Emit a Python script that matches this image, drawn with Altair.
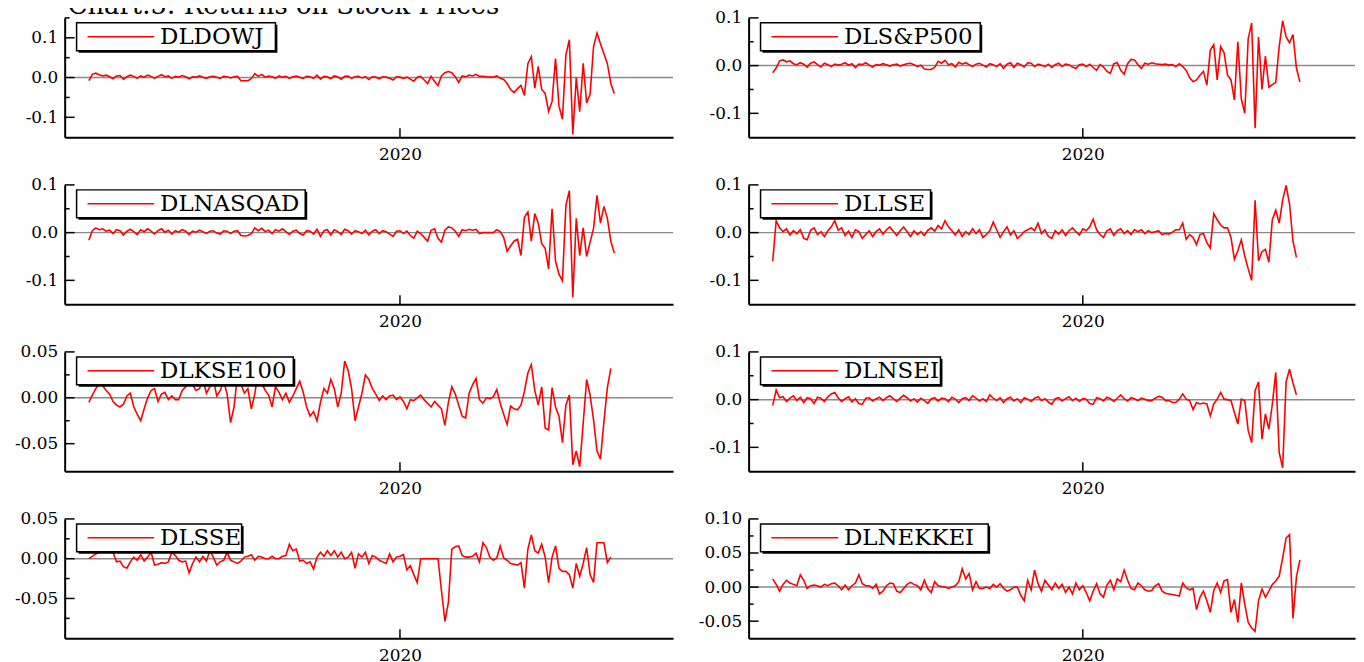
import altair as alt
import pandas as pd

FONT = "DejaVu Serif"
RED = "#ff0000"

CHART_TITLE = "Chart.5: Returns on Stock Prices"
FIRST_OBS = 7
X_SPAN = [0, 176]
YEAR_TICK = 97
YEAR_LABEL = "2020"

DLDOWJ = [
    -0.008, 0.008, 0.011, 0.007, 0.004, 0.006, 0.002, -0.003, 0.004, 0.005,
    -0.004, 0.002, 0.006, 0.003, -0.002, 0.004, 0.001, 0.006, 0.003, -0.002,
    0.003, 0.007, 0.002, 0.004, -0.002, 0.003, 0.001, 0.005, 0.002, -0.003,
    0.002, 0.001, 0.004, 0.001, -0.002, 0.002, 0.003, 0.001, -0.002, 0.003,
    0.002, -0.001, 0.002, 0.003, -0.008, -0.008, -0.008, -0.003, 0.010, 0.003,
    0.008, 0.001, 0.004, 0.002, -0.002, 0.004, 0.001, 0.003, -0.002, 0.002,
    0.004, 0.001, -0.002, 0.003, 0.002, -0.002, 0.006, -0.004, 0.003, 0.002,
    -0.003, 0.004, 0.002, -0.004, 0.003, 0.004, -0.002, 0.002, 0.003, -0.001,
    0.002, -0.005, 0.002, 0.001, -0.003, 0.002, 0.001, -0.002, -0.006, 0.002,
    0.001, -0.002, 0.001, -0.004, -0.009, 0.001, 0.003, -0.006, -0.015, 0.003,
    -0.010, -0.020, 0.004, 0.012, 0.015, 0.012, 0.002, -0.012, 0.004, 0.002,
    0.006, 0.004, 0.008, 0.003, 0.003, 0.002, 0.001, 0.001, 0.004, -0.002,
    -0.005, -0.015, -0.030, -0.038, -0.028, -0.020, -0.045, 0.035, 0.053, -0.027,
    0.028, -0.030, -0.040, -0.085, -0.060, 0.048, -0.072, -0.105, 0.057, 0.095,
    -0.143, 0.000, -0.086, 0.036, -0.064, -0.042, 0.078, 0.112, 0.085, 0.060,
    0.035, -0.015, -0.040,
]

DLSP500 = [
    -0.015, -0.005, 0.010, 0.012, 0.008, 0.010, 0.004, 0.002, 0.006, 0.003,
    -0.003, 0.005, 0.008, 0.002, -0.003, 0.005, 0.002, -0.002, 0.003, 0.001,
    0.003, 0.006, 0.001, 0.004, -0.004, 0.003, 0.002, 0.006, 0.001, -0.003,
    0.002, 0.001, 0.004, 0.002, -0.001, 0.002, 0.003, -0.001, 0.002, 0.004,
    0.005, 0.002, -0.002, 0.001, -0.007, -0.008, -0.008, -0.004, 0.009, 0.005,
    0.011, 0.002, 0.004, -0.003, 0.007, 0.003, 0.006, 0.002, -0.002, 0.003,
    0.005, 0.001, -0.003, 0.004, 0.002, -0.002, 0.004, -0.006, 0.003, 0.006,
    -0.004, 0.005, 0.002, -0.003, 0.006, 0.005, -0.002, 0.003, 0.001, -0.002,
    0.003, -0.004, 0.002, 0.005, -0.002, 0.003, 0.002, -0.003, -0.006, 0.002,
    0.003, -0.002, 0.003, -0.004, -0.010, 0.002, -0.003, -0.012, -0.016, 0.004,
    0.006, -0.010, -0.018, 0.004, 0.013, 0.012, 0.002, -0.006, 0.005, 0.003,
    0.006, 0.004, 0.003, 0.002, 0.003, 0.001, 0.002, -0.002, 0.004, -0.002,
    -0.010, -0.025, -0.034, -0.030, -0.020, -0.012, -0.041, 0.032, 0.044, -0.030,
    0.040, 0.027, -0.020, -0.030, -0.072, 0.050, -0.070, -0.100, 0.056, 0.089,
    -0.131, 0.060, -0.050, 0.020, -0.045, -0.040, -0.035, 0.040, 0.094, 0.060,
    0.048, 0.065, -0.005, -0.034,
]

DLNASQAD = [
    -0.016, 0.004, 0.010, 0.006, 0.008, 0.003, 0.005, -0.002, 0.006, 0.004,
    -0.005, 0.003, 0.007, 0.002, -0.004, 0.006, 0.002, 0.008, 0.003, -0.003,
    0.004, 0.008, 0.001, 0.005, -0.003, 0.004, 0.001, 0.006, 0.003, -0.004,
    0.003, 0.001, 0.005, 0.002, -0.002, 0.003, 0.004, -0.001, -0.003, 0.004,
    0.003, -0.002, 0.003, 0.004, -0.006, -0.007, -0.006, -0.002, 0.010, 0.004,
    0.009, 0.002, 0.005, -0.002, 0.006, 0.003, 0.008, 0.002, -0.004, 0.003,
    0.005, -0.002, -0.005, 0.004, 0.003, -0.003, 0.007, -0.008, 0.004, 0.006,
    -0.005, 0.006, 0.002, -0.004, 0.007, 0.004, -0.003, 0.004, 0.002, -0.002,
    0.005, -0.005, 0.003, 0.006, -0.002, 0.004, 0.002, -0.003, -0.008, 0.003,
    0.004, -0.002, 0.003, -0.006, -0.012, 0.003, -0.002, -0.010, -0.018, 0.005,
    0.008, -0.012, -0.020, 0.005, 0.012, 0.010, 0.003, -0.008, 0.006, 0.004,
    0.007, 0.005, 0.007, -0.002, 0.000, 0.000, 0.000, 0.000, 0.006, 0.002,
    -0.010, -0.039, -0.028, -0.018, -0.014, -0.048, 0.032, 0.043, -0.018, 0.040,
    0.020, -0.023, -0.033, -0.076, 0.050, -0.060, -0.087, -0.101, 0.057, 0.088,
    -0.136, 0.030, -0.048, 0.010, -0.050, -0.020, 0.009, 0.078, 0.020, 0.055,
    0.030, -0.018, -0.043,
]

DLLSE = [
    -0.060, 0.025, 0.010, 0.002, 0.008, -0.005, 0.004, -0.002, 0.006, -0.012,
    -0.015, 0.005, 0.010, -0.004, 0.002, -0.008, 0.004, 0.012, 0.025, 0.005,
    0.010, -0.006, 0.003, -0.010, 0.006, 0.002, -0.012, -0.004, 0.004, -0.008,
    0.002, 0.008, -0.003, 0.006, 0.012, 0.003, -0.006, 0.004, 0.012, 0.002,
    -0.008, 0.004, -0.004, 0.002, -0.006, 0.005, 0.010, 0.003, 0.015, 0.008,
    0.025, 0.012, 0.004, -0.005, 0.006, -0.008, 0.002, -0.004, 0.008, -0.002,
    0.006, -0.010, -0.004, 0.004, 0.022, 0.006, -0.010, 0.002, 0.012, -0.005,
    0.004, -0.012, -0.006, 0.002, 0.006, 0.010, 0.004, 0.020, -0.002, 0.006,
    -0.008, -0.012, 0.004, -0.003, 0.006, -0.006, 0.004, 0.010, 0.002, -0.005,
    0.008, 0.004, 0.012, 0.028, 0.006, -0.004, -0.010, 0.004, 0.008, -0.006,
    0.004, 0.008, -0.002, 0.004, -0.004, 0.006, 0.002, 0.006, -0.002, 0.004,
    0.000, 0.002, 0.004, -0.004, -0.002, -0.003, 0.001, 0.006, 0.006, 0.020,
    -0.014, -0.004, -0.010, -0.025, -0.004, -0.002, -0.021, -0.032, 0.040, 0.027,
    0.016, 0.010, 0.010, -0.010, -0.056, -0.038, -0.015, -0.049, -0.076, -0.100,
    0.068, -0.059, -0.040, -0.035, -0.062, 0.027, 0.047, 0.020, 0.068, 0.099,
    0.060, -0.018, -0.052,
]

DLKSE100 = [
    -0.005, 0.003, 0.010, 0.015, 0.013, 0.008, 0.004, -0.004, -0.008, -0.010,
    -0.007, 0.002, 0.005, -0.010, -0.018, -0.025, -0.012, 0.000, 0.008, 0.010,
    -0.004, 0.004, 0.006, -0.002, 0.002, -0.002, -0.002, 0.008, 0.012, 0.027,
    0.014, 0.008, 0.010, 0.020, 0.005, 0.012, 0.020, 0.002, 0.008, 0.018,
    0.004, -0.027, -0.010, 0.025, 0.015, 0.005, 0.010, -0.012, 0.004, 0.030,
    0.016, 0.008, 0.003, -0.010, 0.012, 0.006, -0.002, 0.005, -0.005, 0.002,
    0.010, 0.018, 0.006, -0.010, -0.020, -0.015, -0.025, -0.005, 0.010, 0.005,
    0.020, 0.010, -0.010, 0.005, 0.040, 0.030, 0.010, -0.025, -0.010, 0.005,
    0.025, 0.020, 0.010, 0.004, -0.003, 0.002, -0.002, 0.002, 0.003, -0.002,
    0.001, -0.004, -0.012, -0.002, -0.003, 0.000, 0.003, -0.002, -0.006, -0.010,
    -0.004, -0.008, -0.012, -0.030, -0.005, 0.012, 0.004, -0.008, -0.020,
    -0.022, 0.005, 0.014, 0.021, -0.002, -0.006, 0.000, -0.001, 0.001, 0.009,
    -0.006, -0.018, -0.029, -0.009, -0.012, -0.013, -0.008, 0.007, 0.027, 0.036,
    0.008, -0.008, 0.012, -0.033, -0.035, 0.011, -0.010, -0.020, -0.049, -0.008,
    0.003, -0.073, -0.058, -0.075, -0.028, 0.020, 0.003, -0.024, -0.058, -0.067,
    -0.026, 0.011, 0.032,
]

DLNSEI = [
    -0.012, 0.020, 0.004, 0.006, -0.004, 0.003, 0.008, -0.002, 0.005, -0.006,
    0.004, 0.002, -0.008, 0.005, 0.003, -0.004, 0.006, 0.012, 0.015, 0.004,
    -0.004, 0.002, 0.006, -0.005, 0.002, -0.008, -0.010, 0.003, 0.004, -0.003,
    0.002, 0.005, -0.002, 0.004, 0.008, 0.002, -0.004, 0.003, 0.009, 0.004,
    -0.003, 0.002, -0.005, 0.003, -0.002, -0.008, 0.002, 0.004, -0.003, 0.003,
    0.002, -0.004, 0.005, 0.001, -0.006, 0.002, 0.004, -0.002, 0.008, 0.003,
    -0.003, 0.002, -0.004, 0.010, 0.003, -0.002, 0.004, -0.006, 0.002, 0.005,
    -0.003, 0.002, -0.006, 0.004, 0.001, -0.004, 0.003, 0.006, -0.002, 0.002,
    -0.005, -0.010, 0.002, 0.004, -0.003, 0.002, 0.006, -0.002, 0.003, -0.004,
    0.002, 0.001, -0.008, -0.010, 0.004, 0.002, -0.003, 0.005, 0.002, -0.004,
    0.003, 0.010, 0.002, -0.003, 0.004, 0.002, -0.002, 0.003, 0.001, -0.002,
    -0.002, 0.003, 0.007, 0.005, -0.002, -0.002, -0.006, -0.006, 0.001, 0.012,
    0.001, -0.002, -0.021, -0.006, -0.009, -0.007, -0.009, -0.034, -0.009, 0.001,
    0.015, 0.001, 0.000, -0.002, -0.027, -0.051, 0.001, -0.002, -0.065, -0.090,
    0.019, 0.037, -0.083, -0.030, -0.062, -0.010, 0.057, -0.111, -0.143, 0.037,
    0.064, 0.035, 0.010,
]

DLSSE = [
    0.000, 0.003, 0.006, 0.008, 0.010, 0.010, 0.010, 0.008, -0.004, -0.003,
    -0.010, -0.012, -0.004, 0.002, -0.002, 0.005, -0.003, 0.002, 0.008, -0.008,
    -0.007, -0.005, -0.006, -0.004, 0.008, 0.004, -0.002, -0.004, -0.003, -0.018,
    -0.006, 0.002, -0.004, 0.003, -0.003, 0.010, 0.002, -0.008, -0.004, -0.002,
    0.008, -0.002, -0.004, -0.006, -0.003, 0.002, 0.003, 0.005, -0.002, 0.003,
    0.002, 0.000, 0.000, 0.003, 0.000, 0.000, 0.003, 0.004, 0.018, 0.010,
    0.012, -0.003, -0.002, -0.006, -0.004, -0.013, 0.002, 0.008, 0.003, 0.010,
    0.004, 0.010, 0.002, 0.008, 0.000, 0.002, 0.008, -0.012, 0.006, 0.002,
    0.008, -0.006, 0.004, 0.002, -0.002, -0.004, -0.006, 0.006, -0.004,
    0.002, 0.003, 0.005, -0.014, -0.009, -0.020, -0.030, 0.000, 0.000, 0.000,
    0.000, 0.000, 0.000, -0.040, -0.079, -0.055, 0.012, 0.015, 0.016, 0.004,
    0.002, 0.002, 0.003, 0.007, -0.004, 0.020, 0.014, 0.002, -0.002, 0.001,
    0.016, 0.001, -0.002, -0.006, -0.007, -0.008, -0.005, -0.037, 0.012, 0.030,
    0.010, 0.007, 0.018, 0.002, -0.030, 0.002, 0.016, -0.012, -0.016, -0.016,
    -0.020, -0.037, -0.006, -0.022, -0.006, 0.014, -0.020, -0.030, 0.020, 0.020,
    0.020, -0.005, 0.002,
]

DLNEKKEI = [
    0.012, 0.004, -0.006, 0.004, 0.010, 0.006, 0.004, 0.002, 0.018, 0.010,
    -0.002, 0.002, 0.003, 0.002, 0.000, 0.004, 0.002, 0.005, 0.006, 0.002,
    -0.004, 0.003, -0.004, 0.002, 0.006, 0.018, 0.005, 0.002, 0.002, -0.002,
    0.004, -0.010, -0.006, 0.002, 0.006, 0.005, -0.006, -0.008, -0.002, 0.004,
    0.007, 0.004, 0.002, -0.004, 0.010, -0.002, -0.008, 0.008, 0.002, 0.001,
    0.000, -0.002, 0.000, 0.002, 0.008, 0.027, 0.012, 0.020, -0.004, 0.008,
    -0.002, -0.002, 0.000, -0.002, 0.004, 0.000, 0.005, -0.002, -0.006, -0.004,
    0.000, 0.000, -0.012, -0.020, 0.010, -0.004, 0.025, 0.005, -0.006, 0.010,
    0.003, -0.004, 0.006, -0.002, 0.004, -0.008, 0.000, -0.010, 0.006, -0.004,
    0.002, -0.008, -0.020, -0.006, 0.005, -0.010, -0.015, 0.003, 0.010, -0.004,
    0.012, 0.008, 0.025, 0.010, -0.002, -0.004, 0.006, 0.002, -0.004, -0.006,
    -0.005, 0.002, 0.005, -0.006, -0.009, -0.010, -0.011, -0.012, -0.013, 0.006,
    -0.001, -0.004, -0.002, -0.033, -0.015, -0.006, -0.020, -0.037, -0.005, 0.006,
    -0.008, 0.009, 0.011, -0.037, -0.018, -0.052, 0.006, -0.025, -0.052, -0.060,
    -0.065, -0.020, -0.003, -0.015, -0.006, 0.004, 0.009, 0.016, 0.043, 0.072,
    0.077, -0.046, 0.015, 0.040,
]

# panel layout: (name, values, y-domain, labelled ticks, minor ticks, label format, legend box right edge)
PANELS = [
    [
        ("DLDOWJ", DLDOWJ, [-0.15, 0.15], [-0.1, 0.0, 0.1], [-0.05, 0.05, 0.15], ".1f", 212),
        ("DLS&P500", DLSP500, [-0.15, 0.1], [-0.1, 0.0, 0.1], [-0.05, 0.05], ".1f", 233),
    ],
    [
        ("DLNASQAD", DLNASQAD, [-0.15, 0.1], [-0.1, 0.0, 0.1], [-0.05, 0.05], ".1f", 242),
        ("DLLSE", DLLSE, [-0.15, 0.1], [-0.1, 0.0, 0.1], [-0.05, 0.05], ".1f", 183),
    ],
    [
        ("DLKSE100", DLKSE100, [-0.08, 0.05], [-0.05, 0.0, 0.05], [-0.025, 0.025], ".2f", 230),
        ("DLNSEI", DLNSEI, [-0.15, 0.1], [-0.1, 0.0, 0.1], [-0.05, 0.05], ".1f", 193),
    ],
    [
        ("DLSSE", DLSSE, [-0.1, 0.05], [-0.05, 0.0, 0.05], [-0.075, -0.025, 0.025], ".2f", 178),
        ("DLNEKKEI", DLNEKKEI, [-0.075, 0.1], [-0.05, 0.0, 0.05, 0.1], [-0.025, 0.025, 0.075], ".2f", 241),
    ],
]

H = 120
WIDTHS = [612, 610]


def make_panel(name, values, domain, majors, minors, fmt, box_right, width, with_title=False):
    obs = pd.DataFrame({"obs": list(range(FIRST_OBS, FIRST_OBS + len(values))), "ret": values})
    one = pd.DataFrame({"k": [0]})

    xenc = alt.X(
        "obs:Q",
        scale=alt.Scale(domain=X_SPAN, nice=False, zero=False),
        axis=alt.Axis(
            values=[YEAR_TICK], labelExpr=f"'{YEAR_LABEL}'", title=None, grid=False,
            ticks=False, tickSize=0, domainColor="black", domainWidth=2,
            labelFont=FONT, labelFontSize=17, labelColor="black", labelPadding=9,
            minExtent=28,
        ),
    )
    yenc = alt.Y(
        "ret:Q",
        scale=alt.Scale(domain=domain, nice=False, zero=False),
        axis=alt.Axis(
            values=majors,
            labelExpr=f"replace(format(datum.value, '{fmt}'), '\u2212', '-')",
            title=None, grid=False, ticks=False, tickSize=0,
            domainColor="black", domainWidth=2,
            labelFont=FONT, labelFontSize=17, labelColor="black", labelPadding=7,
            minExtent=57,
        ),
    )

    zero = alt.Chart(pd.DataFrame({"ret": [0.0]})).mark_rule(
        color="#8a8a8a", strokeWidth=1.5).encode(y=yenc)
    line = alt.Chart(obs).mark_line(color=RED, strokeWidth=1.6, clip=True).encode(x=xenc, y=yenc)
    major_ticks = alt.Chart(pd.DataFrame({"ret": majors})).mark_rule(
        color="black", strokeWidth=1.5).encode(y=yenc, x=alt.value(0), x2=alt.value(10))
    minor_ticks = alt.Chart(pd.DataFrame({"ret": minors})).mark_rule(
        color="black", strokeWidth=1.5).encode(y=yenc, x=alt.value(0), x2=alt.value(5))
    year_tick = alt.Chart(pd.DataFrame({"obs": [YEAR_TICK]})).mark_rule(
        color="black", strokeWidth=1.5).encode(x=xenc, y=alt.value(H - 9), y2=alt.value(H))

    shadow = alt.Chart(one).mark_rect(fill="black").encode(
        x=alt.value(14), x2=alt.value(box_right + 2), y=alt.value(7), y2=alt.value(35))
    box = alt.Chart(one).mark_rect(fill="white", stroke="black", strokeWidth=1.5).encode(
        x=alt.value(12), x2=alt.value(box_right), y=alt.value(5), y2=alt.value(33))
    key = alt.Chart(one).mark_rule(color=RED, strokeWidth=1.5).encode(
        x=alt.value(23), x2=alt.value(90), y=alt.value(19))
    label = alt.Chart(one).mark_text(
        text=name, font=FONT, fontSize=23, align="left", baseline="middle", color="black"
    ).encode(x=alt.value(96), y=alt.value(19))

    layers = [zero, line, major_ticks, minor_ticks, year_tick, shadow, box, key, label]
    if with_title:
        title = alt.Chart(one).mark_text(
            text=CHART_TITLE, font=FONT, fontSize=26, align="left", baseline="alphabetic",
            color="black",
        ).encode(x=alt.value(3), y=alt.value(-4))
        layers.append(title)
    return alt.layer(*layers).properties(width=width, height=H)


rows = []
for r, pair in enumerate(PANELS):
    cells = []
    for c, spec in enumerate(pair):
        cells.append(make_panel(*spec, width=WIDTHS[c], with_title=(r == 0 and c == 0)))
    rows.append(alt.hconcat(*cells, spacing=18))

chart = (
    alt.vconcat(*rows, spacing=11)
    .properties(padding={"left": 0, "top": -17, "right": 0, "bottom": 0}, background="white")
    .configure_view(stroke=None)
)

chart.save("out.html", embed_options={"renderer": "svg", "actions": False})
